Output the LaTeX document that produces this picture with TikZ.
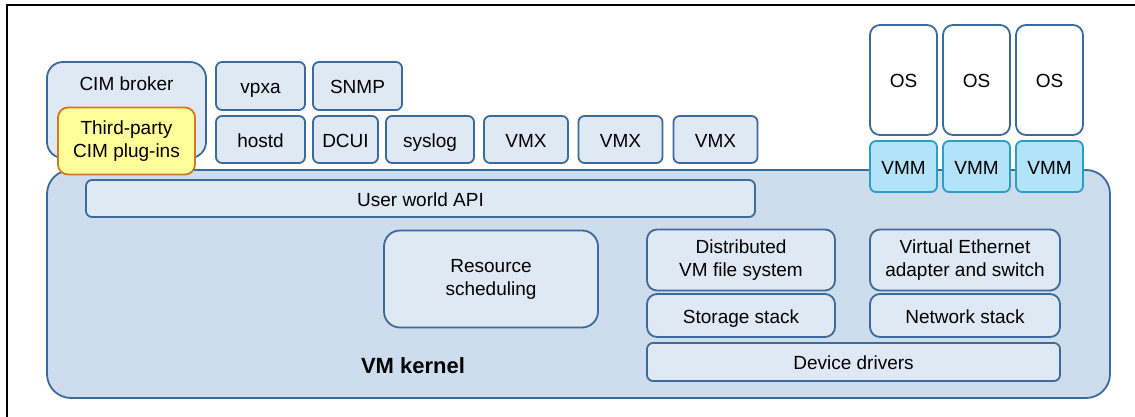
\documentclass[tikz,border=0pt]{standalone}
\usepackage{fontspec}
\setmainfont{Liberation Sans}
\usetikzlibrary{positioning}
\definecolor{boxline}{HTML}{3B6A9B}
\definecolor{boxfill}{HTML}{DFE9F4}
\definecolor{kernelfill}{HTML}{CDDDED}
\definecolor{plugfill}{HTML}{FFFF99}
\definecolor{plugline}{HTML}{D07A20}
\definecolor{vmmfill}{HTML}{B2E3F8}
\definecolor{vmmline}{HTML}{2A9FC6}

\begin{document}
\begin{tikzpicture}[
    x=0.5pt, y=-0.5pt,
    box/.style={
        rectangle,
        draw=boxline, line width=0.9pt, fill=boxfill,
        rounded corners=3pt, align=center, inner sep=1pt,
        font=\fontsize{9.5}{11.5}\selectfont
    },
    %% one-line boxes: fixed text height so baselines line up
    single/.style={text height=1.75ex, text depth=0.25ex},
    kernel/.style={box, fill=kernelfill, rounded corners=12pt},
    osbox/.style={box, single, fill=white, rounded corners=5pt,
        minimum width=33.5pt, minimum height=55pt},
    vmmbox/.style={box, single, draw=vmmline, fill=vmmfill,
        minimum width=33.5pt, minimum height=25.5pt},
    plugin/.style={box, draw=plugline, fill=plugfill, rounded corners=5pt},
    vmx/.style={box, single, minimum width=42pt, minimum height=23.5pt}
]
\useasboundingbox (0,0) rectangle (1135,417);

%% -- Frame ---------------------------------------------------------------
\draw[line width=0.6pt] (7,417) -- (7,5) -- (1135,5);

%% -- VM kernel -----------------------------------------------------------
\node[kernel, minimum width=531.5pt, minimum height=114pt] (kernel) at (578.5,284) {};
\node[font=\fontsize{11}{13}\selectfont\bfseries] (kernellbl) at (413,366) {VM kernel};

\node[box, single, minimum width=334.5pt, minimum height=18.5pt] (api) at (420.5,198.5) {User world API};
\node[box, rounded corners=8pt, minimum width=107pt, minimum height=48.5pt] (sched) at (491,279) {Resource\\scheduling};
\node[box, rounded corners=5pt, minimum width=94pt, minimum height=30.5pt] (vmfs)  at (741,260) {Distributed\\VM file system};
\node[box, rounded corners=5pt, minimum width=95pt, minimum height=30.5pt] (veth)  at (965,260) {Virtual Ethernet\\adapter and switch};
\node[box, single, rounded corners=5pt, minimum width=94pt, minimum height=21.5pt] (storage) at (741,315.5) {Storage stack};
\node[box, single, rounded corners=5pt, minimum width=95pt, minimum height=21.5pt] (network) at (965,315.5) {Network stack};
\node[box, single, minimum width=206.5pt, minimum height=19pt] (drivers) at (853.5,362) {Device drivers};

%% -- User world processes ------------------------------------------------
\node[box, rounded corners=8pt, minimum width=79.5pt, minimum height=48pt,
      label={[anchor=north, yshift=-4.5pt, font=\fontsize{9.5}{11.5}\selectfont]north:CIM broker}]
      (cim) at (126.5,110) {};
\node[plugin, minimum width=68.5pt, minimum height=33.5pt] (plugins) at (126.5,141) {Third-party\\CIM plug-ins};

\node[box, single, minimum width=44.5pt, minimum height=24pt]   (vpxa)   at (260.5,86)    {vpxa};
\node[box, single, minimum width=44.5pt, minimum height=24pt]   (snmp)   at (357.5,86)    {SNMP};
\node[box, single, minimum width=44.5pt, minimum height=23.5pt] (hostd)  at (260.5,139.5) {hostd};
\node[box, single, minimum width=32.5pt, minimum height=23.5pt] (dcui)   at (345.5,139.5) {DCUI};
\node[box, single, minimum width=44pt, minimum height=23.5pt]   (syslog) at (430,139.5)   {syslog};

\foreach \i/\x in {1/526, 2/620.5, 3/715.5}
    \node[vmx] (vmx\i) at (\x,139.5) {VMX};

%% -- Virtual machines ----------------------------------------------------
\foreach \i/\x in {1/903.5, 2/976.5, 3/1049.5} {
    \node[osbox]  (os\i)  at (\x,80)    {OS};
    \node[vmmbox] (vmm\i) at (\x,166.5) {VMM};
}

\end{tikzpicture}
\end{document}
